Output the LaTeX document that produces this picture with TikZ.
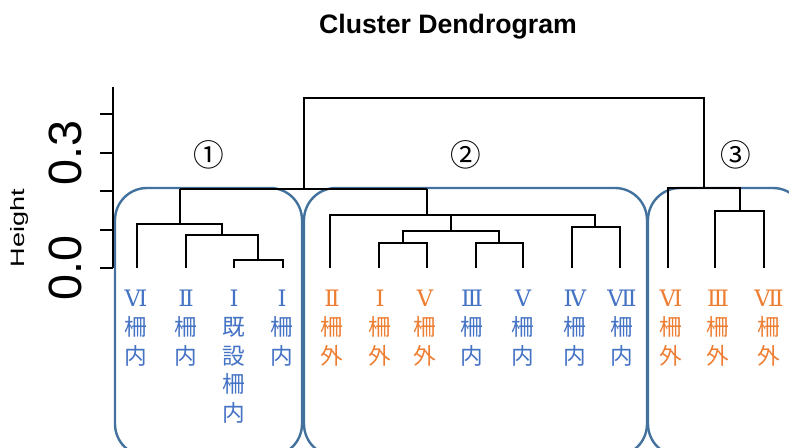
\documentclass[tikz,border=0pt]{standalone}
\usepackage{fontspec}
\setmainfont{Liberation Sans}
\newfontfamily\jp{Noto Sans CJK JP}
\newfontfamily\rn{DejaVu Serif}
\definecolor{inblue}{HTML}{4472C4}
\definecolor{outorange}{HTML}{ED7D31}
\definecolor{boxblue}{HTML}{41719C}
\newcommand{\rnum}[1]{{\rn\fontsize{17}{18}\selectfont #1}}
\begin{document}
\begin{tikzpicture}[x=0.75pt,y=-0.75pt,
  dend/.style={line width=0.9pt, black},
  cbox/.style={draw=boxblue, line width=1.8pt, rounded corners=24pt},
  leaf/.style={anchor=north, inner sep=0pt, align=center, font=\jp\fontsize{17}{21.5}\selectfont},
  inlab/.style={leaf, text=inblue},
  outlab/.style={leaf, text=outorange},
  grp/.style={inner sep=0pt, font=\jp\fontsize{23}{26}\selectfont},
  ticklab/.style={rotate=90, inner sep=0pt, font=\fontsize{35}{40}\selectfont}]
\useasboundingbox (0,0) rectangle (789,447);
\begin{scope}
\clip (0,0) rectangle (789,447);
\draw[cbox] (115,188) rectangle (302,456);
\draw[cbox] (304,188) rectangle (647,456);
\draw[cbox] (648,188) rectangle (805,456);
\end{scope}
% title
\node[font=\bfseries\fontsize{20}{24}\selectfont] (title) at (448,27) {Cluster Dendrogram};
% axis
\draw[dend] (113,87) -- (113,268);
\foreach \t in {114,153,191,230,268} \draw[dend] (100,\t) -- (113,\t);
\node[ticklab] (y0) at (65,268) {0.0};
\node[ticklab] (y3) at (65,153) {0.3};
\node[rotate=90, xscale=1.4, inner sep=0pt, font=\fontsize{14.5}{16}\selectfont] (ylab) at (20,228) {Height};
% dendrogram cluster 1
\draw[dend] (234,268) -- (234,260) -- (283,260) -- (283,268);
\draw[dend] (186,268) -- (186,235) -- (258,235) -- (258,260);
\draw[dend] (137,268) -- (137,224) -- (222,224) -- (222,235);
\draw[dend] (180,224) -- (180,189);
% cluster 2
\draw[dend] (379,268) -- (379,243) -- (427,243) -- (427,268);
\draw[dend] (476,268) -- (476,243) -- (523,243) -- (523,268);
\draw[dend] (403,243) -- (403,231) -- (499,231) -- (499,243);
\draw[dend] (572,268) -- (572,227) -- (620,227) -- (620,268);
\draw[dend] (330,268) -- (330,215) -- (595,215) -- (595,227);
\draw[dend] (451,231) -- (451,215);
\draw[dend] (427,215) -- (427,189);
% top
\draw[dend] (180,189) -- (427,189);
\draw[dend] (304,189) -- (304,98) -- (704,98) -- (704,188);
% cluster 3
\draw[dend] (715,268) -- (715,211) -- (764,211) -- (764,268);
\draw[dend] (668,268) -- (668,188) -- (740,188) -- (740,211);
% group labels
\node[grp] (g1) at (209,155) {①};
\node[grp] (g2) at (466,155) {②};
\node[grp] (g3) at (736,155) {③};
% leaf labels
\node[inlab] (a1) at (136,290) {\rnum{Ⅵ}\\柵\\内};
\node[inlab] (a2) at (186,290) {\rnum{Ⅱ}\\柵\\内};
\node[inlab] (a3) at (234,290) {\rnum{Ⅰ}\\既\\設\\柵\\内};
\node[inlab] (a4) at (282,290) {\rnum{Ⅰ}\\柵\\内};
\node[outlab] (b1) at (332,290) {\rnum{Ⅱ}\\柵\\外};
\node[outlab] (b2) at (380,290) {\rnum{Ⅰ}\\柵\\外};
\node[outlab] (b3) at (425,290) {\rnum{Ⅴ}\\柵\\外};
\node[inlab] (b4) at (472,290) {\rnum{Ⅲ}\\柵\\内};
\node[inlab] (b5) at (523,290) {\rnum{Ⅴ}\\柵\\内};
\node[inlab] (b6) at (575,290) {\rnum{Ⅳ}\\柵\\内};
\node[inlab] (b7) at (622,290) {\rnum{Ⅶ}\\柵\\内};
\node[outlab] (c1) at (671,290) {\rnum{Ⅵ}\\柵\\外};
\node[outlab] (c2) at (718,290) {\rnum{Ⅲ}\\柵\\外};
\node[outlab] (c3) at (769,290) {\rnum{Ⅶ}\\柵\\外};
\end{tikzpicture}
\end{document}
